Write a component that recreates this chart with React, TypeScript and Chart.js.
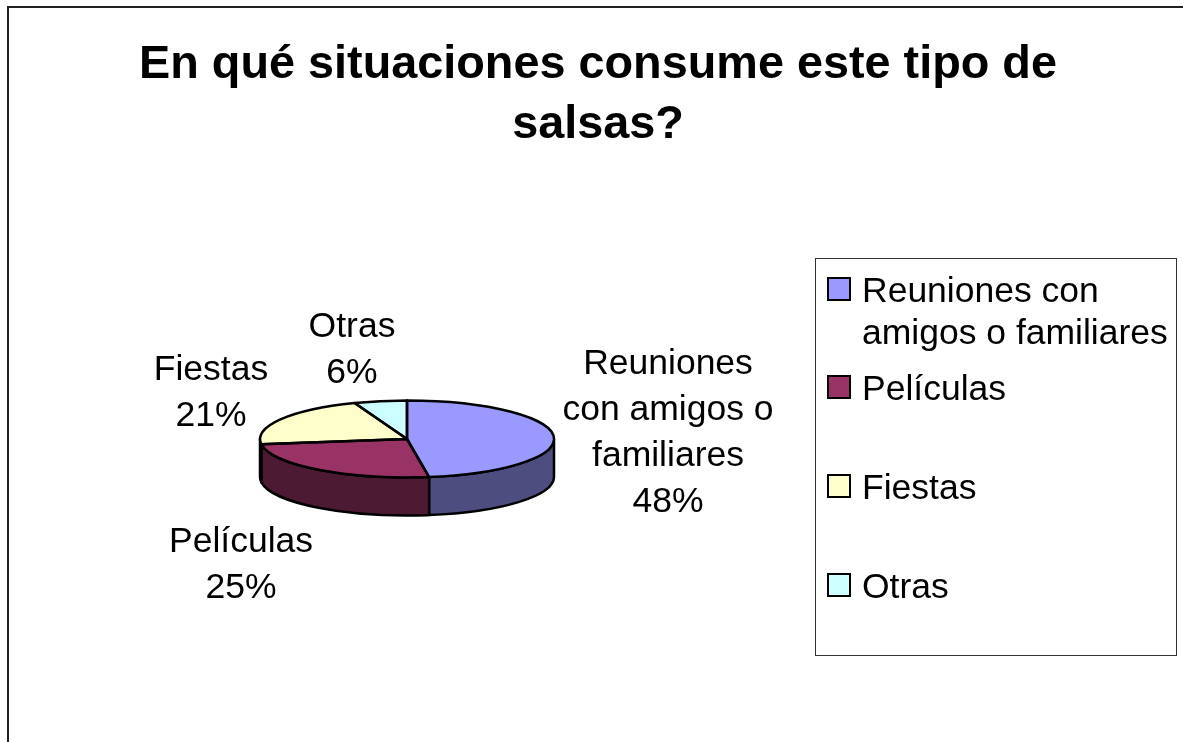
import React, { useEffect, useRef } from "react";
import { Chart, registerables } from "chart.js";

Chart.register(...registerables);

const categories = ["Reuniones con amigos o familiares", "Películas", "Fiestas", "Otras"];
const values = [47.6, 25.2, 21.4, 5.8];
const topColors = ["#9999FF", "#993366", "#FFFFCC", "#CCFFFF"];
const sideColors = ["#4D4D80", "#4D1A33", "#808066", "#668080"];
const titleLines = ["En qué situaciones consume este tipo de", "salsas?"];
const labelLines = [["Reuniones", "con amigos o", "familiares"], ["Películas"], ["Fiestas"], ["Otras"]];
const labelAnchors = [[668, 373.5], [241, 552], [211, 380], [352, 337]];
const legendLines = [["Reuniones con", "amigos o familiares"], ["Películas"], ["Fiestas"], ["Otras"]];
const legendBaselines = [301, 399, 498, 597];

const FONT = '"Liberation Sans", Arial, sans-serif';
const SQUASH = 38.5 / 147;
const DEPTH = 38;

const pie3d = {
  id: "pie3d",
  beforeDatasetDraw(chart: any) {
    const ctx = chart.ctx;
    const arcs = chart.getDatasetMeta(0).data;
    const { x: cx, y: cy, outerRadius: r } = arcs[0].getProps(["x", "y", "outerRadius"], true);
    const ry = r * SQUASH;
    ctx.save();
    ctx.lineWidth = 2.5;
    ctx.strokeStyle = "#000";
    ctx.lineJoin = "round";
    // front walls
    arcs.forEach((a: any, i: number) => {
      const { startAngle, endAngle } = a.getProps(["startAngle", "endAngle"], true);
      const s = Math.max(startAngle, 0);
      const e = Math.min(endAngle, Math.PI);
      if (e <= s) return;
      ctx.beginPath();
      ctx.ellipse(cx, cy, r, ry, 0, s, e);
      ctx.lineTo(cx + r * Math.cos(e), cy + ry * Math.sin(e) + DEPTH);
      ctx.ellipse(cx, cy + DEPTH, r, ry, 0, e, s, true);
      ctx.closePath();
      ctx.fillStyle = sideColors[i];
      ctx.fill();
      ctx.stroke();
    });
    // top faces: the library's own arc elements, flattened
    arcs.forEach((a: any) => {
      ctx.save();
      ctx.translate(cx, cy);
      ctx.scale(1, SQUASH);
      ctx.translate(-cx, -cy);
      a.draw(ctx);
      ctx.restore();
    });
    arcs.forEach((a: any) => {
      const { startAngle, endAngle } = a.getProps(["startAngle", "endAngle"], true);
      ctx.beginPath();
      ctx.moveTo(cx, cy);
      ctx.ellipse(cx, cy, r, ry, 0, startAngle, endAngle);
      ctx.closePath();
      ctx.stroke();
    });
    ctx.restore();
    return false;
  },
};

const texts = {
  id: "texts",
  afterDraw(chart: any) {
    const ctx = chart.ctx;
    ctx.save();
    // outer frame
    ctx.strokeStyle = "#222";
    ctx.lineWidth = 2;
    ctx.beginPath();
    ctx.moveTo(8, 742);
    ctx.lineTo(8, 7);
    ctx.lineTo(1183, 7);
    ctx.stroke();

    ctx.fillStyle = "#000";
    ctx.textBaseline = "alphabetic";
    // title
    ctx.textAlign = "center";
    ctx.font = `bold 46.8px ${FONT}`;
    titleLines.forEach((t, i) => ctx.fillText(t, 598, 78 + i * 59.5));

    // slice labels
    ctx.font = `35.5px ${FONT}`;
    categories.forEach((_, i) => {
      const [x, y] = labelAnchors[i];
      const lines = [...labelLines[i], `${Math.round(values[i])}%`];
      lines.forEach((t, j) => ctx.fillText(t, x, y + j * 46));
    });

    // legend
    ctx.lineWidth = 1;
    ctx.strokeStyle = "#333";
    ctx.strokeRect(815.5, 258.5, 361, 397);
    ctx.textAlign = "left";
    categories.forEach((_, i) => {
      const y = legendBaselines[i];
      ctx.fillStyle = topColors[i];
      ctx.fillRect(828, y - 23, 22, 22);
      ctx.lineWidth = 2;
      ctx.strokeStyle = "#000";
      ctx.strokeRect(828, y - 23, 22, 22);
      ctx.fillStyle = "#000";
      legendLines[i].forEach((t, j) => ctx.fillText(t, 862, y + 1 + j * 42));
    });
    ctx.restore();
  },
};

export default function App() {
  const ref = useRef<HTMLCanvasElement>(null);
  useEffect(() => {
    const chart = new Chart(ref.current!, {
      type: "pie",
      data: {
        labels: categories,
        datasets: [{ data: values, backgroundColor: topColors, borderWidth: 0 }],
      },
      options: {
        animation: false,
        responsive: false,
        layout: { padding: { left: 260, right: 629, top: 292, bottom: 156 } },
        plugins: { legend: { display: false }, title: { display: false }, tooltip: { enabled: false } },
      },
      plugins: [pie3d, texts],
    } as any);
    return () => chart.destroy();
  }, []);
  return (
    <div style={{ position: "fixed", left: 0, top: 0, width: 1183, height: 742, background: "#fff", overflow: "hidden" }}>
      <canvas ref={ref} width={1183} height={742} style={{ display: "block" }} />
    </div>
  );
}
